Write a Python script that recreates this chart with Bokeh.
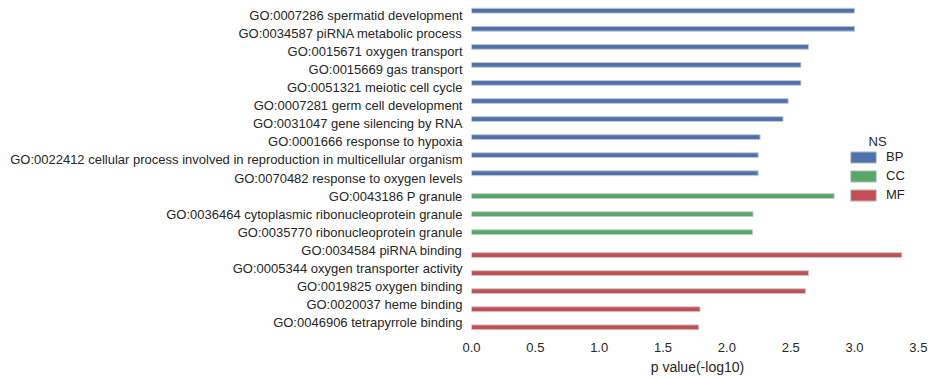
from bokeh.plotting import figure
from bokeh.models import ColumnDataSource, Range1d, Legend, LegendItem, Label, FixedTicker
from bokeh.embed import file_html
from bokeh.resources import INLINE

terms = [
    "GO:0007286 spermatid development",
    "GO:0034587 piRNA metabolic process",
    "GO:0015671 oxygen transport",
    "GO:0015669 gas transport",
    "GO:0051321 meiotic cell cycle",
    "GO:0007281 germ cell development",
    "GO:0031047 gene silencing by RNA",
    "GO:0001666 response to hypoxia",
    "GO:0022412 cellular process involved in reproduction in multicellular organism",
    "GO:0070482 response to oxygen levels",
    "GO:0043186 P granule",
    "GO:0036464 cytoplasmic ribonucleoprotein granule",
    "GO:0035770 ribonucleoprotein granule",
    "GO:0034584 piRNA binding",
    "GO:0005344 oxygen transporter activity",
    "GO:0019825 oxygen binding",
    "GO:0020037 heme binding",
    "GO:0046906 tetrapyrrole binding",
]
ns = ["BP"] * 10 + ["CC"] * 3 + ["MF"] * 5
pvals = [3.00, 3.00, 2.64, 2.58, 2.58, 2.48, 2.44, 2.26, 2.245, 2.245,
         2.84, 2.205, 2.20,
         3.37, 2.64, 2.615, 1.79, 1.78]
hue_order = ["BP", "CC", "MF"]
colors = {"BP": "#4C72B0", "CC": "#55A868", "MF": "#C44E52"}
x_ticks = [0.0, 0.5, 1.0, 1.5, 2.0, 2.5, 3.0, 3.5]

FONT = "Liberation Sans"
TXT = "#262626"
EDGE = "#c8c8c8"
bar_h = 0.8 / len(hue_order)

p = figure(width=930, height=377, output_backend="svg", toolbar_location=None,
           x_range=Range1d(0, 3.54), y_range=Range1d(17.5, -0.5),
           min_border_left=471, min_border_right=7, min_border_top=6,
           min_border_bottom=45)
p.outline_line_color = None
p.xgrid.grid_line_color = None
p.ygrid.grid_line_color = None
p.background_fill_color = "white"

legend_items = []
for h_i, h in enumerate(hue_order):
    idx = [i for i, n in enumerate(ns) if n == h]
    src = ColumnDataSource(dict(
        y=[i + (h_i - 1) * bar_h for i in idx],
        right=[pvals[i] for i in idx],
    ))
    r = p.hbar(y="y", right="right", left=0, height=bar_h, source=src,
               fill_color=colors[h], line_color=EDGE, line_width=1)
    legend_items.append(LegendItem(label=h, renderers=[r]))

# axes
p.yaxis.ticker = FixedTicker(ticks=list(range(len(terms))))
p.yaxis.major_label_overrides = {i: t for i, t in enumerate(terms)}
p.xaxis.ticker = FixedTicker(ticks=x_ticks)
p.xaxis.major_label_overrides = {t: f"{t:.1f}" for t in x_ticks}
for ax in (p.xaxis[0], p.yaxis[0]):
    ax.axis_line_color = None
    ax.major_tick_line_color = None
    ax.minor_tick_line_color = None
    ax.major_tick_out = 0
    ax.major_tick_in = 0
    ax.major_label_text_font = FONT
    ax.major_label_text_font_size = "13px"
    ax.major_label_text_color = TXT
    ax.axis_label_text_font = FONT
    ax.axis_label_text_font_size = "14px"
    ax.axis_label_text_font_style = "normal"
    ax.axis_label_text_color = TXT
p.yaxis.major_label_standoff = 9
p.xaxis.major_label_standoff = 11
p.xaxis.axis_label = "p value(-log10)"
p.xaxis.axis_label_standoff = 4

legend = Legend(items=legend_items,
                location=(376, 129), orientation="vertical",
                background_fill_alpha=0, border_line_alpha=0,
                padding=0, margin=0, spacing=4,
                glyph_width=32, glyph_height=14, label_height=14,
                label_standoff=7, label_text_font=FONT,
                label_text_font_size="13px", label_text_color=TXT)
p.add_layout(legend, "center")

p.add_layout(Label(x=3.18, y=6.96, text="NS", text_align="center",
                   text_baseline="middle", text_font=FONT,
                   text_font_size="13px", text_color=TXT))

open("out.html", "w").write(file_html(p, INLINE))
